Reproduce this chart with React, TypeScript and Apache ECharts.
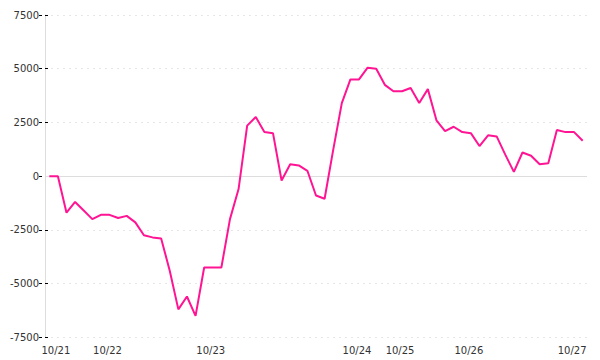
import React, { useEffect, useRef } from "react";
import * as echarts from "echarts";

// Series values, one per time slot (63 slots)
const values: number[] = [
  0, 0, -1700, -1200, -1600, -2000, -1800, -1800, -1950, -1850,
  -2150, -2750, -2850, -2900, -4400, -6200, -5600, -6500, -4250, -4250,
  -4250, -2000, -600, 2350, 2750, 2050, 2000, -200, 550, 500,
  250, -900, -1050, 1220, 3400, 4500, 4500, 5050, 5000, 4250,
  3950, 3950, 4100, 3400, 4050, 2600, 2100, 2300, 2050, 2000,
  1400, 1900, 1850, 1000, 200, 1100, 950, 550, 600, 2150,
  2050, 2050, 1650,
];

// Day labels and the slot index where each is shown
const dayLabels: string[] = ["10/21", "10/22", "10/23", "10/24", "10/25", "10/26", "10/27"];
const dayLabelSlots: number[] = [1, 7, 19, 36, 41, 49, 61];

// Y axis ticks
const yMin = -7500;
const yMax = 7500;
const yStep = 2500;

const slots: string[] = values.map((_, i) => String(i));

export default function App() {
  const ref = useRef<HTMLDivElement>(null);

  useEffect(() => {
    if (!ref.current) return;
    const chart = echarts.init(ref.current, null, { renderer: "svg" });
    const labelAt: Record<number, string> = {};
    dayLabelSlots.forEach((s, k) => (labelAt[s] = dayLabels[k]));
    const font = "'DejaVu Sans', Verdana, sans-serif";

    chart.setOption({
      animation: false,
      backgroundColor: "#ffffff",
      grid: { left: 45, right: 13, top: 15, bottom: 22.7, containLabel: false },
      xAxis: {
        type: "category",
        data: slots,
        boundaryGap: true,
        axisLine: { show: false },
        axisTick: { show: false },
        splitLine: { show: false },
        axisLabel: {
          interval: 0,
          margin: 8,
          color: "#333",
          fontSize: 10,
          fontFamily: font,
          padding: [0, 4, 0, 0],
          formatter: (_v: string, idx: number) => labelAt[idx] ?? "",
        },
      },
      yAxis: [
        {
          type: "value",
          position: "left",
          min: yMin,
          max: yMax,
          interval: yStep,
          axisLine: { show: true, lineStyle: { color: "#dddddd", width: 1 } },
          axisTick: {
            show: true,
            length: 6,
            lineStyle: { color: "#000", width: 1, type: [0, 3, 3] },
          },
          axisLabel: {
            margin: 6,
            color: "#333",
            fontSize: 10,
            fontFamily: font,
            formatter: (v: number) => String(v),
          },
          splitLine: {
            show: true,
            lineStyle: { color: "#e6e6e6", width: 1, type: [2, 4] },
          },
        },
        {
          type: "value",
          position: "left",
          min: yMin,
          max: yMax,
          interval: yStep,
          axisLine: { show: false },
          axisTick: { show: true, inside: true, length: 3, lineStyle: { color: "#000", width: 1 } },
          axisLabel: { show: false },
          splitLine: { show: false },
        },
      ],
      series: [
        {
          type: "line",
          data: values,
          yAxisIndex: 0,
          showSymbol: false,
          symbol: "none",
          lineStyle: { color: "#ff1493", width: 2 },
          itemStyle: { color: "#ff1493" },
          markLine: {
            silent: true,
            symbol: "none",
            label: { show: false },
            lineStyle: { color: "#dddddd", type: "solid", width: 1 },
            data: [{ yAxis: 0 }],
            z: 1,
          },
        },
      ],
    });
    return () => chart.dispose();
  }, []);

  return (
    <div
      ref={ref}
      style={{ position: "fixed", left: 0, top: 0, width: 600, height: 360, background: "#fff" }}
    />
  );
}
